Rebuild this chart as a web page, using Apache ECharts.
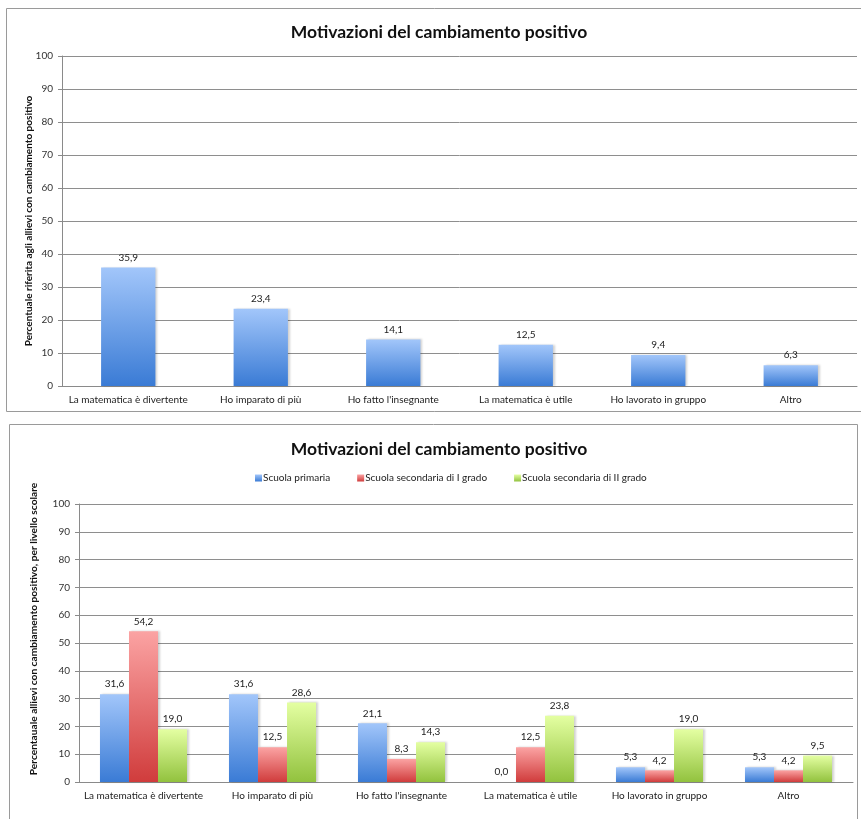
<!DOCTYPE html>
<html>
<head>
<meta charset="utf-8">
<script src="https://cdn.jsdelivr.net/npm/echarts@6/dist/echarts.min.js"></script>
<style>
  html, body { margin: 0; padding: 0; background: #fff; }
  #chart { width: 861px; height: 819px; }
</style>
</head>
<body>
<div id="chart"></div>
<script>
// Shared categories (reasons for the positive change)
const categories = [
  'La matematica è divertente',
  'Ho imparato di più',
  "Ho fatto l'insegnante",
  'La matematica è utile',
  'Ho lavorato in gruppo',
  'Altro'
];

// Overall percentages
const totalValues = [35.9, 23.4, 14.1, 12.5, 9.4, 6.3];

// Percentages by school level
const levelNames = ['Scuola primaria', 'Scuola secondaria di I grado', 'Scuola secondaria di II grado'];
const primariaValues = [31.6, 31.6, 21.1, 0.0, 5.3, 5.3];
const secondaria1Values = [54.2, 12.5, 8.3, 12.5, 4.2, 4.2];
const secondaria2Values = [19.0, 28.6, 14.3, 23.8, 19.0, 9.5];

const yTicks = [0, 10, 20, 30, 40, 50, 60, 70, 80, 90, 100];

const FONT = 'Lato, "Open Sans", sans-serif';

function grad(top, bottom) {
  return new echarts.graphic.LinearGradient(0, 0, 0, 1, [
    { offset: 0, color: top },
    { offset: 1, color: bottom }
  ]);
}
const blue = grad('#a2c6fa', '#3a7bd5');
const red = grad('#fba3a3', '#d03c3c');
const green = grad('#e4ffa2', '#92c23e');

const fmt = p => p.value.toFixed(1).replace('.', ',');

function valueAxis(gridIndex) {
  return {
    type: 'value', gridIndex, min: yTicks[0], max: yTicks[yTicks.length - 1], interval: 10,
    axisLine: { show: true, lineStyle: { color: '#8a8a8a', width: 1 } },
    axisTick: { show: true, length: 4, lineStyle: { color: '#8a8a8a' } },
    axisLabel: { color: '#333', fontFamily: FONT, fontSize: 10, margin: 9 },
    splitLine: { lineStyle: { color: '#8e8e8e', width: 1 } }
  };
}
function catAxis(gridIndex, margin) {
  return {
    type: 'category', gridIndex, data: categories,
    axisLine: { lineStyle: { color: '#8a8a8a', width: 1 } },
    axisTick: { show: false },
    axisLabel: { color: '#222', fontFamily: FONT, fontSize: 10, margin, interval: 0 }
  };
}
const labelStyle = {
  show: true, position: 'top', distance: 5, formatter: fmt,
  color: '#222', fontFamily: FONT, fontSize: 10
};
const shadow = { shadowColor: 'rgba(0,0,0,0.18)', shadowOffsetX: 2, shadowOffsetY: 0, shadowBlur: 2 };

const chart = echarts.init(document.getElementById('chart'), null, { renderer: 'canvas' });
chart.setOption({
  animation: false,
  backgroundColor: '#fff',
  graphic: [
    { type: 'rect', shape: { x: 6.5, y: 8.5, width: 860, height: 403 }, style: { fill: 'none', stroke: '#9a9a9a', lineWidth: 1 } },
    { type: 'rect', shape: { x: 9.5, y: 424.5, width: 848, height: 400 }, style: { fill: 'none', stroke: '#9a9a9a', lineWidth: 1 } }
  ],
  title: [
    {
      text: 'Motivazioni del cambiamento positivo', left: 434, top: 18, textAlign: 'center',
      textStyle: { fontFamily: FONT, fontSize: 17.5, fontWeight: 'bold', color: '#111' }
    },
    {
      text: 'Motivazioni del cambiamento positivo', left: 434, top: 435, textAlign: 'center',
      textStyle: { fontFamily: FONT, fontSize: 17.5, fontWeight: 'bold', color: '#111' }
    }
  ],
  legend: {
    top: 468, left: 250, itemWidth: 7, itemHeight: 7, itemGap: 27,
    icon: 'rect',
    data: levelNames,
    textStyle: { fontFamily: FONT, fontSize: 10, color: '#222', padding: [0, 0, 0, -4] }
  },
  grid: [
    { left: 62, top: 56, width: 795, height: 330 },
    { left: 79, top: 504, width: 774, height: 278 }
  ],
  xAxis: [catAxis(0, 9), catAxis(1, 9)],
  yAxis: [
    Object.assign(valueAxis(0), {
      name: 'Percentuale riferita agli allievi con cambiamento positivo',
      nameLocation: 'middle', nameGap: 28, nameRotate: 90, nameMoveOverlap: false,
      nameTextStyle: { fontFamily: FONT, fontSize: 10, fontWeight: 'bold', color: '#111' }
    }),
    Object.assign(valueAxis(1), {
      name: 'Percentauale allievi con cambiamento positivo, per livello scolare',
      nameLocation: 'middle', nameGap: 40, nameRotate: 90, nameMoveOverlap: false,
      nameTextStyle: { fontFamily: FONT, fontSize: 10.2, fontWeight: 'bold', color: '#111', padding: [0, 0, 0, 28] }
    })
  ],
  series: [
    {
      type: 'bar', xAxisIndex: 0, yAxisIndex: 0, data: totalValues,
      barWidth: '41%',
      itemStyle: Object.assign({ color: blue }, shadow),
      label: labelStyle
    },
    {
      name: levelNames[0], type: 'bar', xAxisIndex: 1, yAxisIndex: 1, data: primariaValues,
      barWidth: '22.5%', barGap: '0%',
      itemStyle: Object.assign({ color: blue }, shadow),
      label: labelStyle
    },
    {
      name: levelNames[1], type: 'bar', xAxisIndex: 1, yAxisIndex: 1, data: secondaria1Values,
      barWidth: '22.5%', barGap: '0%',
      itemStyle: Object.assign({ color: red }, shadow),
      label: labelStyle
    },
    {
      name: levelNames[2], type: 'bar', xAxisIndex: 1, yAxisIndex: 1, data: secondaria2Values,
      barWidth: '22.5%', barGap: '0%',
      itemStyle: Object.assign({ color: green }, shadow),
      label: labelStyle
    }
  ]
});
</script>
</body>
</html>
